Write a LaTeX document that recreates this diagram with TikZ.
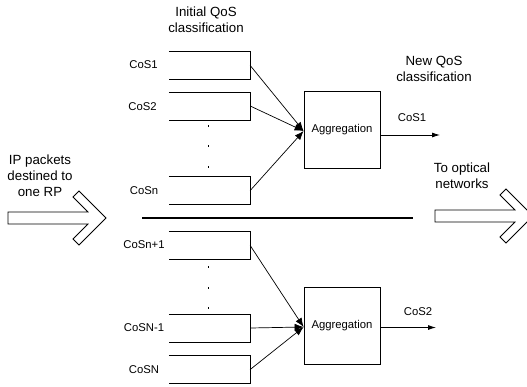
\documentclass[tikz,border=0pt]{standalone}
\usepackage{fontspec}
\setmainfont{Liberation Sans}
\usetikzlibrary{arrows.meta,calc}

\begin{document}
\begin{tikzpicture}[x=1pt,y=-1pt,
  line join=miter,
  queue/.style={draw=none,minimum width=81pt,minimum height=27.5pt,inner sep=0pt},
  qlabel/.style={font=\fontsize{11.3}{13}\selectfont,inner sep=0pt},
  heading/.style={font=\fontsize{13.3}{16}\selectfont,align=center,inner sep=0pt},
  aggbox/.style={draw,line width=0.8pt,minimum width=76pt,minimum height=77pt,inner sep=0pt,font=\fontsize{11.3}{13}\selectfont},
  qline/.style={line width=0.8pt},
  feed/.style={line width=0.7pt,-{Latex[length=9pt,width=7pt]}},
  outarrow/.style={line width=0.8pt,-{Latex[length=8pt,width=5pt]}},
  dotmark/.style={fill,inner sep=0pt,minimum size=1.6pt},
  bigarrow/.style={line width=0.8pt},
  divider/.style={line width=2pt}
]
\useasboundingbox (0,0) rectangle (527,386);
\clip (0,0) rectangle (527,386);

% Headings
\node[heading] (hinit) at (206,20) {Initial QoS\\classification};
\node[heading] (hnew) at (434,69) {New QoS\\classification};
\node[heading] (hin) at (40,176) {IP packets\\destined to\\one RP};
\node[heading] (hout) at (462,175.5) {To optical\\networks};

% Queues (open on the left)
\node[queue] (q1) at (209.5,65.5) {};
\node[queue] (q2) at (209.5,106) {};
\node[queue] (q3) at (209.5,190.5) {};
\node[queue] (q4) at (209.5,245.5) {};
\node[queue] (q5) at (209.5,328) {};
\node[queue] (q6) at (209.5,369.5) {};
\foreach \q in {q1,q2,q3,q4,q5,q6}
  \draw[qline] (\q.north west) -- (\q.north east) -- (\q.south east) -- (\q.south west);

% Queue labels
\node[qlabel] (l1) at (143.5,65) {CoS1};
\node[qlabel] (l2) at (142.5,107) {CoS2};
\node[qlabel] (l3) at (144,191) {CoSn};
\node[qlabel] (l4) at (144,245) {CoSn+1};
\node[qlabel] (l5) at (144,328) {CoSN-1};
\node[qlabel] (l6) at (144,369.5) {CoSN};

% Ellipsis dots between queues
\foreach \y [count=\i] in {126,146,167,267,288,308}
  \node[dotmark] (dot\i) at (208.5,\y) {};

% Aggregation stages
\node[aggbox] (a1) at (342,129.5) {Aggregation};
\node[aggbox] (a2) at (342,325.5) {Aggregation};

\coordinate (m1) at ($(a1.west)+(0,1.5)$);
\coordinate (m2) at ($(a2.west)+(0,1.5)$);
\draw[feed] (q1.east) -- (m1);
\draw[feed] (q2.east) -- (m1);
\draw[feed] (q3.east) -- (m1);
\draw[feed] (q4.east) -- (m2);
\draw[feed] (q5.east) -- (m2);
\draw[feed] (q6.east) -- (m2);

% Outputs
\coordinate (t1) at (440,135);
\coordinate (t2) at (436,327.5);
\draw[outarrow] (a1.east |- t1) -- (t1);
\draw[outarrow] (a2.east |- t2) -- (t2);
\node[qlabel] (c1) at (412,118) {CoS1};
\node[qlabel] (c2) at (418,312) {CoS2};

% Divider
\coordinate (d1) at (142,218);
\coordinate (d2) at (413,218);
\draw[divider] (d1) -- (d2);

% Hollow block arrows
\draw[bigarrow] (8,212) -- (88,212) -- (73,197) -- (79,191) -- (106,218)
  -- (79,245) -- (73,239) -- (88,224) -- (8,224) -- cycle;
\draw[bigarrow] (435,210) -- (515,210) -- (500,195) -- (506,189) -- (533,216)
  -- (506,243) -- (500,237) -- (515,222) -- (435,222) -- cycle;
\end{tikzpicture}
\end{document}
